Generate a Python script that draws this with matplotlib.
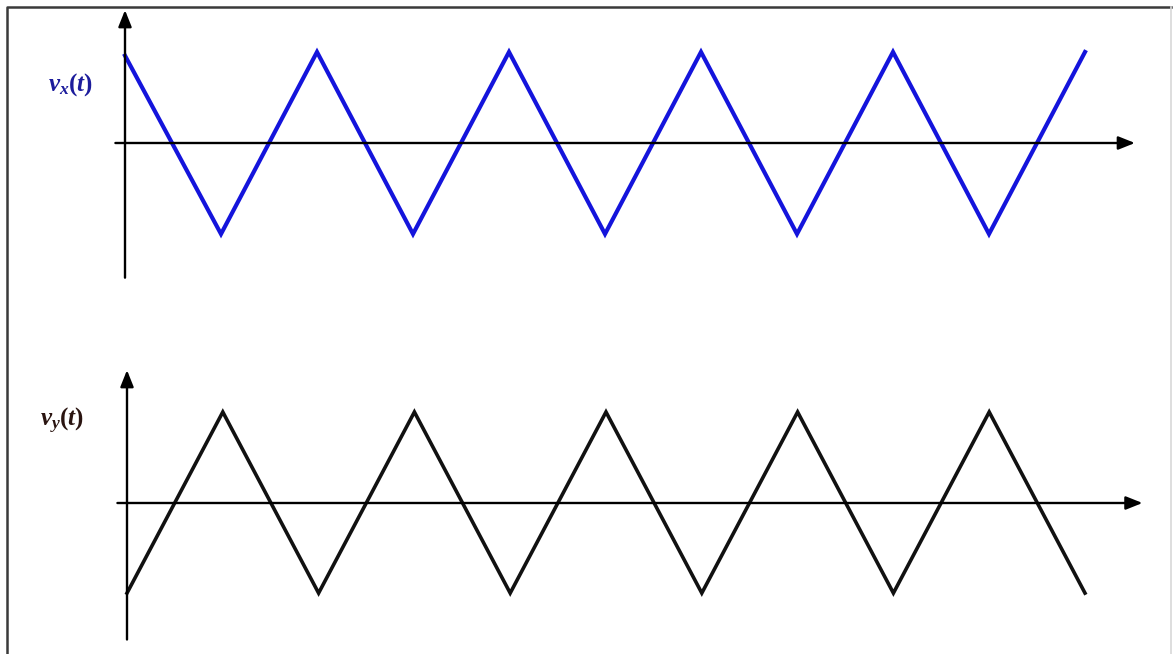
import matplotlib.pyplot as plt
from matplotlib.lines import Line2D

plt.rcParams['mathtext.fontset'] = 'custom'
plt.rcParams['mathtext.it'] = 'Liberation Serif:italic:bold'
plt.rcParams['mathtext.rm'] = 'Liberation Serif:bold'

# triangle wave corners (time in half periods, normalised amplitude)
t_x = [0, 1, 2, 3, 4, 5, 6, 7, 8, 9, 10]
v_x = [0.96, -1, 1, -1, 1, -1, 1, -1, 1, -1, 1]
t_y = [0, 1, 2, 3, 4, 5, 6, 7, 8, 9, 10]
v_y = [-0.99, 1, -0.99, 1, -0.99, 1, -0.99, 1, -0.99, 1, -0.99]

W, H = 1176, 654
fig = plt.figure(figsize=(W / 100, H / 100), dpi=100)
fig.patch.set_facecolor('white')


def panel(x0, dx, y0, dy):
    # axes spanning the whole figure, scaled so that (0, 0) lands at pixel (x0, y0)
    ax = fig.add_axes([0, 0, 1, 1])
    ax.set_xlim(-x0 / dx, (W - x0) / dx)
    ax.set_ylim(-(H - y0) / dy, y0 / dy)
    ax.patch.set_alpha(0)
    ax.axis('off')
    return ax


def draw_axes(ax, xl, xr, yb, yt):
    arrow = dict(arrowstyle='-|>,head_length=1.0,head_width=0.4', color='black', lw=1.7,
                 shrinkA=0, shrinkB=0)
    ax.annotate('', xy=(xr, 0), xytext=(xl, 0), arrowprops=arrow)
    ax.annotate('', xy=(0, yt), xytext=(0, yb), arrowprops=arrow)


top = panel(125, 96, 143, 91)
draw_axes(top, -0.1, 10.52, -1.48, 1.46)
top.plot(t_x, v_x, color='#1414dc', lw=3, solid_joinstyle='miter')
top.text(-0.57, 0.64, r'$v_x(t)$', color='#1c1c9c', fontsize=18, ha='center', va='center')

bot = panel(127, 95.8, 503, 91)
draw_axes(bot, -0.1, 10.6, -1.5, 1.46)
bot.plot(t_y, v_y, color='#111111', lw=2.6, solid_joinstyle='miter')
bot.text(-0.68, 0.9, r'$v_y(t)$', color='#2a1410', fontsize=18, ha='center', va='center')

# outer frame: dark left and top edges, faint right edge
x_l, x_r, y_t = 6.5 / W, 1171 / W, 1 - 6.5 / H
fig.add_artist(Line2D([x_l, x_l, x_r], [0, y_t, y_t], color='#3a3a3a', lw=1.8,
                      transform=fig.transFigure))
fig.add_artist(Line2D([x_r, x_r], [0, y_t], color='#d8d8d8', lw=1.2,
                      transform=fig.transFigure))

fig.savefig('out.png', dpi=100)
